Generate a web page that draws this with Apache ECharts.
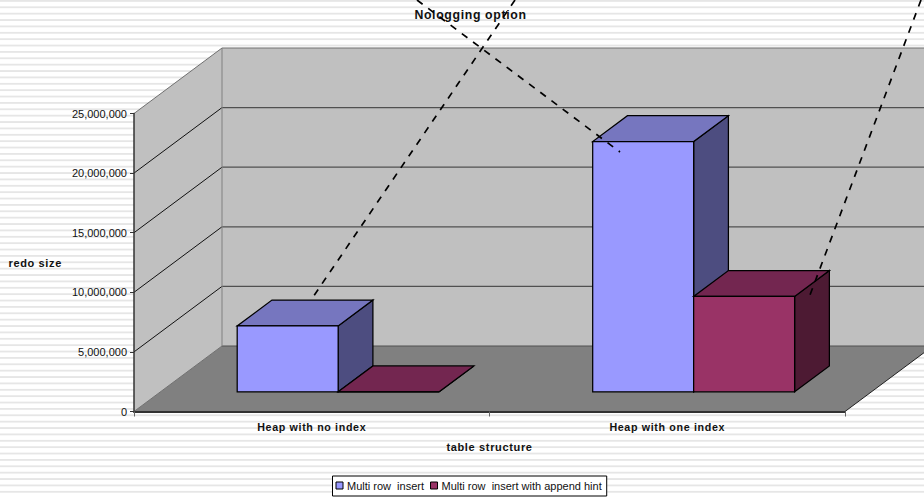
<!DOCTYPE html>
<html>
<head>
<meta charset="utf-8">
<style>
  html, body { margin: 0; padding: 0; background: #fff; }
  #chart {
    width: 924px; height: 497px;
    background-color: #fff;
    background-image: linear-gradient(#e6e6e6 0, #e6e6e6 2px, #fff 2px);
    background-size: 100% 6.39px;
  }
  svg text { white-space: pre; }
  svg text[style*="bold"] { letter-spacing: 0.65px; }
</style>
<script src="https://cdn.jsdelivr.net/npm/echarts@6/dist/echarts.min.js"></script>
</head>
<body>
<div id="chart"></div>
<script>
// Redo generated per table structure, shown as a 3-D style column chart.
const categories = ['Heap with no index', 'Heap with one index'];
const multiRowInsert = [5530000, 21000000];
const multiRowAppend = [0, 8000000];
const valueTicks = [0, 5000000, 10000000, 15000000, 20000000, 25000000];

const DEPTH_X = 88, DEPTH_Y = 65.5;
const BAR_SHARE = 0.284;
const BAR_NEAR = 0.3, BAR_FAR = 0.695;

const LABEL_FONT = 'Liberation Sans, Arial, sans-serif';
const shift = (p, d) => [p[0] + d * DEPTH_X, p[1] - d * DEPTH_Y];

function poly(points, fill, stroke, lineWidth) {
  return { type: 'polygon', shape: { points }, style: { fill, stroke, lineWidth: lineWidth === undefined ? 1.25 : lineWidth } };
}
function seg(a, b, stroke, lineWidth) {
  return { type: 'line', shape: { x1: a[0], y1: a[1], x2: b[0], y2: b[1] }, style: { stroke, lineWidth, fill: null } };
}

// Back wall, side wall, floor and their gridlines.
function renderFrame(params, api) {
  const band = api.size([1, 0])[0];
  const left = api.coord([0, 0])[0] - band / 2;
  const right = api.coord([categories.length - 1, 0])[0] + band / 2;
  const y0 = api.coord([0, 0])[1];
  const yTop = api.coord([0, valueTicks[valueTicks.length - 1]])[1];
  const fl = [left, y0], fr = [right, y0], tl = [left, yTop], tr = [right, yTop];
  const kids = [
    poly([shift(fl, 1), shift(fr, 1), shift(tr, 1), shift(tl, 1)], '#c0c0c0', null, 0),
    poly([fl, shift(fl, 1), shift(tl, 1), tl], '#c0c0c0', null, 0),
    poly([fl, fr, shift(fr, 1), shift(fl, 1)], '#808080', null, 0)
  ];
  valueTicks.slice(1, -1).forEach(function (v) {
    const p = [left, api.coord([0, v])[1]], q = [right, p[1]];
    kids.push(seg(p, shift(p, 1), '#111', 1));
    kids.push(seg(shift(p, 1), shift(q, 1), '#505050', 1.2));
  });
  kids.push(seg(shift(fl, 1), shift(fr, 1), '#505050', 1.2));
  kids.push(seg(shift(tl, 1), shift(tr, 1), '#707070', 1.2));
  kids.push(seg(shift(fl, 1), shift(tl, 1), '#808080', 1));
  kids.push(seg(fl, shift(fl, 1), '#707070', 1));
  kids.push(seg(tl, shift(tl, 1), '#707070', 1));
  kids.push(seg(fr, shift(fr, 1), '#222', 1));
  return { type: 'group', children: kids };
}

function barRenderer(seriesPos, front, top, side) {
  return function (params, api) {
    const idx = api.value(0);
    const barW = api.size([1, 0])[0] * BAR_SHARE;
    const c = api.coord([idx, 0]);
    const h = api.coord([idx, api.value(1)])[1];
    const x0 = c[0] + (seriesPos - 1) * barW, x1 = x0 + barW;
    const near = (p) => shift(p, BAR_NEAR), far = (p) => shift(p, BAR_FAR);
    const lb = [x0, c[1]], rb = [x1, c[1]], lt = [x0, h], rt = [x1, h];
    return {
      type: 'group',
      children: [
        poly([near(rb), far(rb), far(rt), near(rt)], side, '#000'),
        poly([near(lt), near(rt), far(rt), far(lt)], top, '#000'),
        poly([near(lb), near(rb), near(rt), near(lt)], front, '#000')
      ]
    };
  };
}

function barSeries(name, values, pos, front, top, side) {
  return {
    type: 'custom', name, z: 3, clip: false,
    itemStyle: { color: front },
    encode: { x: 0, y: 1 },
    data: values.map((v, i) => [i, v]),
    renderItem: barRenderer(pos, front, top, side)
  };
}

// Dashed leader lines running from the top of the page to the bars.
const leaderLines = [
  [[417, 0], [620, 152]],
  [[515, 0], [313, 297]],
  [[921, 0], [810, 295]]
];

const chart = echarts.init(document.getElementById('chart'), null, { renderer: 'svg' });
const boldText = { fontFamily: LABEL_FONT, fontWeight: 'bold', fontSize: 11, color: '#111' };

chart.setOption({
  backgroundColor: 'transparent',
  animation: false,
  title: {
    text: 'Nologging option', left: 465.5, top: 4, textAlign: 'center',
    textStyle: { fontFamily: LABEL_FONT, fontWeight: 'bold', fontSize: 12.3, color: '#111' }
  },
  grid: { left: 134, width: 711, top: 113.5, height: 298, outerBoundsMode: 'none' },
  xAxis: {
    type: 'category', data: categories, z: 5,
    name: 'table structure', nameLocation: 'middle', nameGap: 30, nameTextStyle: boldText,
    axisLine: { lineStyle: { color: '#333', width: 2 } },
    axisTick: { show: true, length: 5, lineStyle: { color: '#666' } },
    axisLabel: Object.assign({ margin: 10, interval: 0 }, boldText, { fontSize: 10.7 }),
    splitLine: { show: false }
  },
  yAxis: {
    type: 'value', min: 0, max: 25000000, interval: 5000000, z: 5,
    name: 'redo size', nameLocation: 'middle', nameRotate: 0, nameGap: 72, nameTextStyle: boldText,
    axisLine: { show: true, lineStyle: { color: '#333', width: 1.5 } },
    axisTick: { show: true, length: 4, lineStyle: { color: '#333' } },
    axisLabel: {
      margin: 7, fontFamily: LABEL_FONT, fontSize: 11, color: '#111',
      formatter: (v) => v.toLocaleString('en-US')
    },
    splitLine: { show: false }
  },
  legend: {
    data: ['Multi row  insert', 'Multi row  insert with append hint'],
    left: 332.5, top: 476, orient: 'horizontal',
    padding: [4, 5, 5, 3], itemGap: 6, itemWidth: 7, itemHeight: 7,
    backgroundColor: '#fff', borderColor: '#000', borderWidth: 1, borderRadius: 0,
    icon: 'rect', selectedMode: false,
    itemStyle: { borderColor: '#000', borderWidth: 1 },
    textStyle: { fontFamily: LABEL_FONT, fontSize: 11, color: '#111', padding: [0, 4, 0, -1] }
  },
  series: [
    {
      type: 'custom', name: 'frame', z: 1, clip: false, silent: true,
      encode: { x: 0, y: 1 }, data: [[0, 0]], renderItem: renderFrame
    },
    barSeries('Multi row  insert', multiRowInsert, 0, '#9999ff', '#7676bf', '#4d4d80'),
    barSeries('Multi row  insert with append hint', multiRowAppend, 1, '#993366', '#732650', '#4d1a33')
  ],
  graphic: leaderLines.map((l) => ({
    type: 'line', z: 50,
    shape: { x1: l[0][0], y1: l[0][1], x2: l[1][0], y2: l[1][1] },
    style: { stroke: '#000', lineWidth: 1.7, lineDash: [7, 7] }
  }))
});
</script>
</body>
</html>
